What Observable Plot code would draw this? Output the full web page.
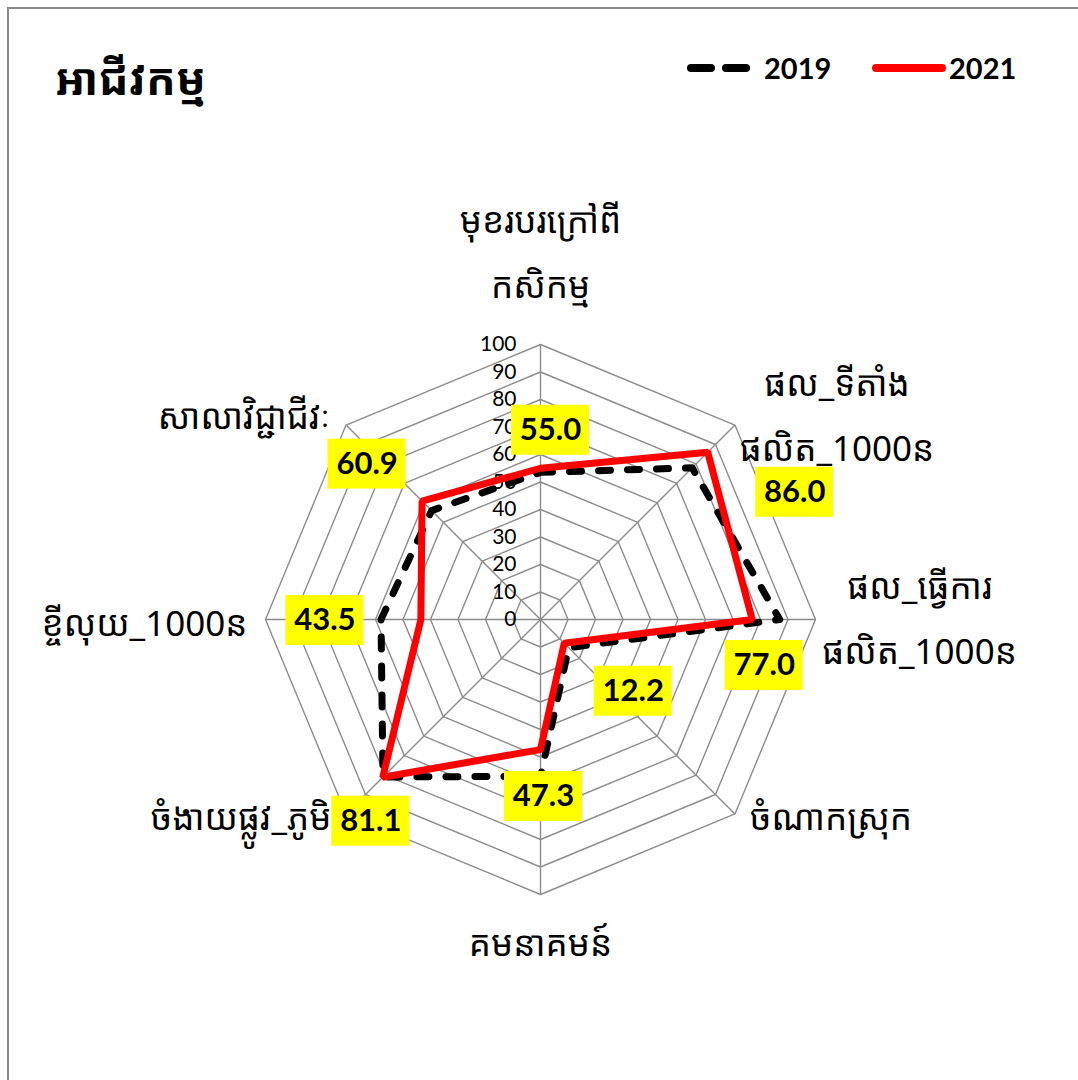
<!DOCTYPE html>
<html>
<head>
<meta charset="utf-8">
<script src="https://cdn.jsdelivr.net/npm/d3@7"></script>
<script src="https://cdn.jsdelivr.net/npm/@observablehq/plot@0.6"></script>
<style>
  html, body { margin: 0; padding: 0; background: #fff; overflow: hidden; }
  #wrap { position: relative; width: 1078px; height: 1080px; overflow: hidden; }
  #frame { position: absolute; left: 7px; top: 7px; width: 1200px; height: 1200px; border-left: 2px solid #8a8a8a; border-top: 2px solid #8a8a8a; }
  #header { position: relative; height: 140px; }
  #title { position: absolute; left: 55px; top: 48px; font-family: "Noto Sans Khmer", "Khmer OS", "DejaVu Sans", sans-serif; font-weight: bold; font-size: 44px; color: #000; line-height: 60px; }
  .leg { position: absolute; top: 50px; font-family: Lato, "Open Sans", sans-serif; font-weight: bold; font-size: 29px; color: #000; line-height: 36px; display: flex; align-items: center; }
  .leg svg { margin-right: 2px; }
  #chart { position: absolute; left: 0; top: 140px; }
</style>
</head>
<body>
<div id="wrap">
  <div id="frame"></div>
  <div id="header">
    <div id="title"></div>
    <div id="legend"></div>
  </div>
  <div id="chart"></div>
</div>
<script>
// ---- data ----
const titleText = "អាជីវកម្ម";
const axisLabels = [
  "មុខរបរក្រៅពី\nកសិកម្ម",
  "ផល_ទីតាំង\nផលិត_1000ន",
  "ផល_ធ្វើការ\nផលិត_1000ន",
  "ចំណាកស្រុក",
  "គមនាគមន៍",
  "ចំងាយផ្លូវ_ភូមិ",
  "ខ្ចីលុយ_1000ន",
  "សាលាវិជ្ជាជីវៈ"
];
const seriesNames = ["2019", "2021"];
const values2019 = [53.5, 78, 87, 14.5, 57, 81, 58, 56];
const values2021 = [55.0, 86.0, 77.0, 12.2, 47.3, 81.1, 43.5, 60.9];
const tickValues = [0, 10, 20, 30, 40, 50, 60, 70, 80, 90, 100];

// ---- layout (pixels) ----
const W = 1078, H = 940;
const CX = 540, CY = 479;       // centre of the radar inside the svg
const PX = 2.75;                // pixels per unit
const axisLabelNudge = [[0, -100], [102, -17], [104, -9], [96, -5], [0, 41], [-105, -5], [-121, -4], [-102, -17]];
const valueLabelNudge = [[10, -38], [87, 40], [12, 46], [69, 48], [3, 47], [-12, 44], [-96, 1], [-55, -37]];
const BOX_W = 78, BOX_H = 50;

const n = axisLabels.length;
const ang = i => i * 2 * Math.PI / n;
const px = (i, r) => r * Math.sin(ang(i));
const py = (i, r) => r * Math.cos(ang(i));

// title & legend
document.getElementById("title").textContent = titleText;
const legend = document.getElementById("legend");
const legSpec = [
  {name: seriesNames[0], left: 686, stroke: "#000", dash: "20 15"},
  {name: seriesNames[1], left: 871, stroke: "#ff0000", dash: null}
];
legSpec.forEach(s => {
  const div = document.createElement("div");
  div.className = "leg";
  div.style.left = s.left + "px";
  div.innerHTML = `<svg width="76" height="20"><line x1="5" y1="10" x2="${s.dash ? 64 : 71}" y2="10" stroke="${s.stroke}" stroke-width="8" stroke-linecap="round" ${s.dash ? `stroke-dasharray="${s.dash}"` : ""}/></svg><span>${s.name}</span>`;
  legend.appendChild(div);
});

// derived tables
const idx = d3.range(n);
const rings = tickValues.slice(1).flatMap(t => idx.map(i => ({ring: t, i})));
const pts2019 = idx.map(i => ({i, v: values2019[i]}));
const pts2021 = idx.map(i => ({i, v: values2021[i]}));

const khmerFont = `"Noto Sans Khmer", "Khmer OS", "DejaVu Sans", sans-serif`;

const plot = Plot.plot({
  width: W,
  height: H,
  margin: 0,
  x: {domain: [-CX / PX, (W - CX) / PX], range: [0, W], axis: null},
  y: {domain: [-(H - CY) / PX, CY / PX], range: [H, 0], axis: null},
  style: {background: "transparent"},
  marks: [
    // grid rings
    Plot.line(rings, {x: d => px(d.i, d.ring), y: d => py(d.i, d.ring), z: "ring", curve: "linear-closed", stroke: "#8c8c8c", strokeWidth: 1.4}),
    // spokes
    Plot.link(idx, {x1: 0, y1: 0, x2: i => px(i, 100), y2: i => py(i, 100), stroke: "#8c8c8c", strokeWidth: 1.4}),
    // tick labels
    Plot.text(tickValues, {x: 0, y: d => d, text: d => String(d), textAnchor: "end", dx: -24, fontSize: 21, fill: "#000", fontFamily: "Lato, 'Open Sans', sans-serif"}),
    // 2019 dashed
    Plot.line(pts2019, {x: d => px(d.i, d.v), y: d => py(d.i, d.v), curve: "linear-closed", stroke: "#000", strokeWidth: 7, strokeDasharray: "12 17", strokeLinecap: "round", strokeLinejoin: "round"}),
    // 2021 solid
    Plot.line(pts2021, {x: d => px(d.i, d.v), y: d => py(d.i, d.v), curve: "linear-closed", stroke: "#ff0000", strokeWidth: 7, strokeLinejoin: "miter"}),
    // value label boxes
    Plot.rect(pts2021, {
      x1: d => px(d.i, d.v) + (valueLabelNudge[d.i][0] - BOX_W / 2) / PX,
      x2: d => px(d.i, d.v) + (valueLabelNudge[d.i][0] + BOX_W / 2) / PX,
      y1: d => py(d.i, d.v) - (valueLabelNudge[d.i][1] - BOX_H / 2) / PX,
      y2: d => py(d.i, d.v) - (valueLabelNudge[d.i][1] + BOX_H / 2) / PX,
      fill: "#ffff00"
    }),
    Plot.text(pts2021, {
      x: d => px(d.i, d.v) + valueLabelNudge[d.i][0] / PX,
      y: d => py(d.i, d.v) - valueLabelNudge[d.i][1] / PX,
      text: d => d.v.toFixed(1),
      fontSize: 31, fontWeight: "bold", fill: "#000",
      fontFamily: "Lato, 'Open Sans', sans-serif"
    }),
    // axis labels
    Plot.text(idx, {
      x: i => px(i, 100) + axisLabelNudge[i][0] / PX,
      y: i => py(i, 100) - axisLabelNudge[i][1] / PX,
      text: i => axisLabels[i],
      fontSize: 35, lineHeight: 1.86, fill: "#000",
      fontFamily: khmerFont
    })
  ]
});
document.getElementById("chart").appendChild(plot);
</script>
</body>
</html>
